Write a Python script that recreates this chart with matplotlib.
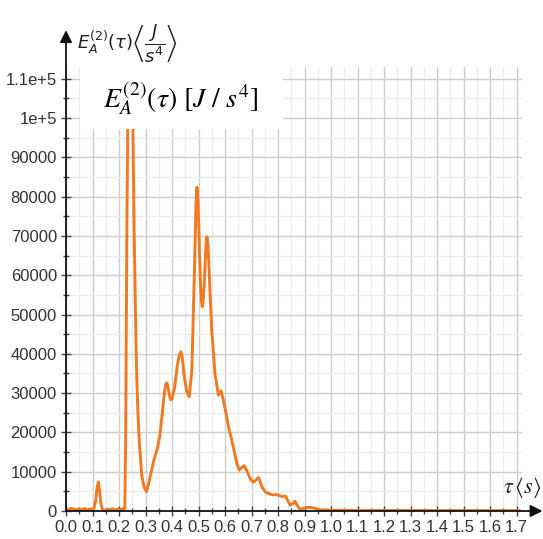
import matplotlib
matplotlib.use("Agg")
import matplotlib.pyplot as plt
from matplotlib.patches import Rectangle

# values
tau = [0.0, 0.01, 0.02, 0.03, 0.04, 0.05, 0.06, 0.07, 0.08, 0.09, 0.1, 0.106, 0.112, 0.117, 0.122,
       0.127, 0.132, 0.138, 0.145, 0.155, 0.165, 0.175, 0.185, 0.195, 0.205, 0.212, 0.218, 0.222,
       0.225, 0.23, 0.236, 0.243, 0.249, 0.253, 0.257, 0.263, 0.267, 0.272, 0.277, 0.286, 0.295,
       0.304, 0.312, 0.32, 0.33, 0.345, 0.355, 0.365, 0.372, 0.377, 0.38, 0.384, 0.39, 0.395, 0.4,
       0.41, 0.42, 0.428, 0.433, 0.438, 0.445, 0.455, 0.465, 0.475, 0.485, 0.49, 0.494, 0.498,
       0.503, 0.508, 0.511, 0.514, 0.517, 0.522, 0.528, 0.532, 0.536, 0.542,
       0.55, 0.562, 0.575, 0.585, 0.594, 0.605, 0.613, 0.631, 0.645, 0.654, 0.665, 0.673,
       0.685, 0.697, 0.707, 0.717, 0.727, 0.74, 0.755, 0.77, 0.78, 0.795, 0.814, 0.829, 0.845,
       0.855, 0.864, 0.874, 0.883, 0.895, 0.908, 0.925, 0.94, 0.955, 0.97, 0.985, 1.0, 1.1, 1.2,
       1.3, 1.4, 1.5, 1.6, 1.71]
energy = [200, 400, 700, 400, 300, 600, 250, 650, 200, 550, 300, 900, 2500, 5800, 7400,
          5000, 1800, 300, 100, 500, 300, 600, 200, 500, 300, 600, 400, 800,
          17000, 75000, 118000, 128000, 118000, 95000, 72000, 47000, 34000, 24000, 17000, 9000, 6000,
          4900, 7000, 9500, 12500, 16000, 19500, 26000, 30500, 32300, 32600, 31800, 29500, 28300, 28500,
          31500, 37000, 39800, 40500, 39500, 35000, 30500, 29100, 36000, 62000, 77000, 82400, 79000,
          68000, 57000, 53500, 52000, 53000, 58000, 67500, 69800, 67500, 58000,
          46000, 35000, 29500, 30600, 28200, 24500, 21500, 16400, 12000, 10400, 11200, 11500,
          9800, 8000, 7300, 7900, 8500, 6000, 4700, 4300, 4100, 4200, 3700, 3800, 1500,
          1800, 2500, 1300, 300, 700, 900, 900, 700, 350, 250, 300, 200, 150, 150,
          150, 120, 120, 100, 100]

y_ticks = [0, 10000, 20000, 30000, 40000, 50000, 60000, 70000, 80000, 90000, 100000, 110000]
y_labels = ["0", "10000", "20000", "30000", "40000", "50000", "60000", "70000",
            "80000", "90000", "1e+5", "1.1e+5"]
x_ticks = [round(0.1 * i, 1) for i in range(18)]
x_labels = ["%.1f" % v for v in x_ticks]

plt.rcParams['font.family'] = ['Liberation Sans Narrow', 'Liberation Sans', 'DejaVu Sans']

fig = plt.figure(figsize=(5.43, 5.39), dpi=100)
ax = fig.add_axes([66 / 543, 28 / 539, 456 / 543, 444 / 539])

ax.plot(tau, energy, color="#f07a22", lw=2.1, zorder=3, solid_joinstyle="round")

ax.set_xlim(0, 1.7207)
ax.set_ylim(0, 113000)

ax.set_xticks(x_ticks)
ax.set_xticklabels(x_labels)
ax.set_xticks([0.05 + 0.1 * i for i in range(17)], minor=True)
ax.set_yticks(y_ticks)
ax.set_yticklabels(y_labels)
ax.set_yticks([5000 + 10000 * i for i in range(11)], minor=True)

ax.grid(which="major", color="#cfcfcf", lw=1.0)
ax.grid(which="minor", color="#ececec", lw=1.0)
ax.set_axisbelow(True)

ax.tick_params(which="major", direction="inout", length=7, width=1, color="#444444",
               labelsize=12, labelcolor="#333333", pad=3)
ax.tick_params(which="minor", direction="inout", length=5, width=1, color="#444444")

for s in ["top", "right", "left", "bottom"]:
    ax.spines[s].set_visible(False)

# axis lines with arrow heads
ax.annotate("", xy=(0, 1.083), xytext=(0, 0), xycoords="axes fraction",
            arrowprops=dict(arrowstyle="-|>", color="#111111", lw=1.3, mutation_scale=18,
                            shrinkA=0, shrinkB=0), annotation_clip=False)
ax.annotate("", xy=(1.045, 0), xytext=(0, 0), xycoords="axes fraction",
            arrowprops=dict(arrowstyle="-|>", color="#111111", lw=1.3, mutation_scale=18,
                            shrinkA=0, shrinkB=0), annotation_clip=False)

# axis captions
fig.text(77 / 543, 1 - 44 / 539, r"$E_A^{(2)}(\tau)\left\langle\dfrac{J}{s^4}\right\rangle$",
         fontsize=13, va="center", ha="left", color="#222222")
fig.text(522 / 543, 1 - 488 / 539, r"$\tau\,\left\langle s\right\rangle$", fontsize=16,
         va="center", ha="center", color="#222222", math_fontfamily="stix")

# white label box
fig.patches.append(Rectangle((80 / 543, 1 - 129 / 539), 203 / 543, 64 / 539,
                             transform=fig.transFigure, facecolor="white",
                             edgecolor="none", zorder=5))
fig.text(181 / 543, 1 - 98 / 539, r"$E_A^{(2)}(\tau)\ [J\ /\ s^4]$", fontsize=20,
         va="center", ha="center", color="black", math_fontfamily="stix", zorder=6)

fig.savefig("out.png", dpi=100)
